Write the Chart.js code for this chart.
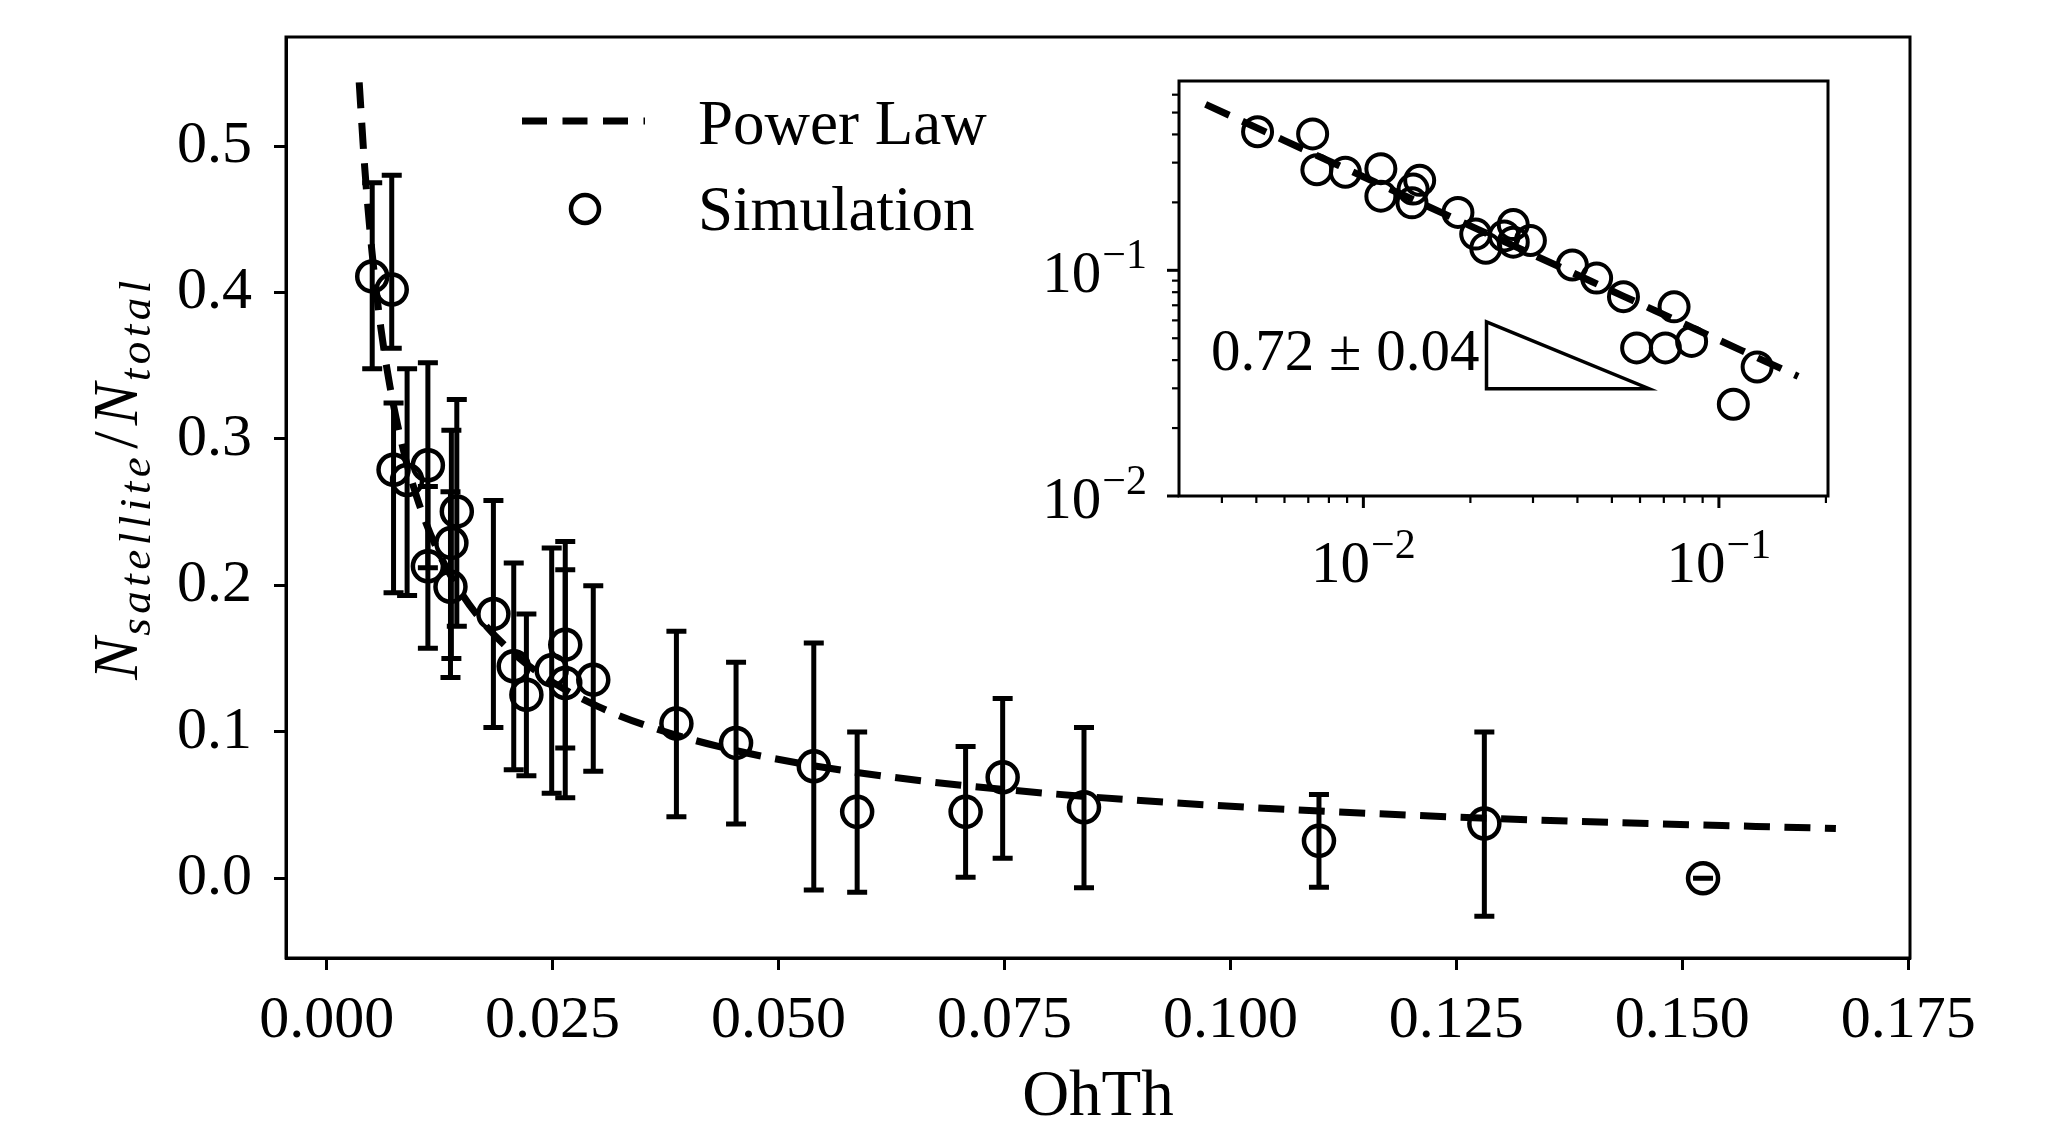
<!DOCTYPE html>
<html lang="en">
<head>
<meta charset="UTF-8">
<title>Satellite fraction vs OhTh</title>
<script src="https://cdn.jsdelivr.net/npm/chart.js"></script>
<style>
    html, body { margin: 0; padding: 0; background: #fff; }
    #wrap { position: relative; width: 2047px; height: 1123px; }
    #mainChart { position: absolute; left: 0; top: 0; }
    #insetChart { position: absolute; left: 1000px; top: 0; }
</style>
</head>
<body>
<div id="wrap">
    <canvas id="mainChart" width="2047" height="1123"></canvas>
    <canvas id="insetChart" width="1000" height="640"></canvas>
</div>

<script>
// ---- values ----
const xTicks = [0.000, 0.025, 0.050, 0.075, 0.100, 0.125, 0.150, 0.175];
const yTicks = [0.0, 0.1, 0.2, 0.3, 0.4, 0.5];

// simulation points (OhTh, N_sat/N_total) and error bar ends
const simX    = [0.00504, 0.0072, 0.0074, 0.0089, 0.0112, 0.0112, 0.0144, 0.0138, 0.0137, 0.01845, 0.0207, 0.0221, 0.0249,
                 0.0264, 0.0264, 0.0295, 0.0387, 0.0453, 0.0539, 0.0587, 0.0707, 0.0748, 0.0838, 0.1098, 0.1281, 0.1523];
const simY    = [0.411, 0.402, 0.279, 0.272, 0.282, 0.213, 0.2505, 0.229, 0.199, 0.1805, 0.1447, 0.1253, 0.142,
                 0.1595, 0.1333, 0.1356, 0.1056, 0.0924, 0.0764, 0.0453, 0.0453, 0.0689, 0.0484, 0.0255, 0.0373, 0.0];
const simLow  = [0.348, 0.362, 0.195, 0.193, 0.212, 0.157, 0.172, 0.150, 0.137, 0.103, 0.074, 0.070, 0.058,
                 0.089, 0.055, 0.073, 0.042, 0.037, -0.008, -0.0096, 0.0006, 0.0136, -0.0066, -0.0062, -0.026, 0.0];
const simHigh = [0.475, 0.480, 0.3245, 0.348, 0.352, 0.2675, 0.327, 0.306, 0.264, 0.258, 0.2152, 0.1804, 0.2255,
                 0.230, 0.2107, 0.1998, 0.1686, 0.1474, 0.1606, 0.0999, 0.090, 0.1228, 0.103, 0.0571, 0.0998, 0.0];

// dashed power law curve, sampled along the drawn line
const fitX = [0.0036, 0.0042, 0.005, 0.006, 0.007, 0.0085, 0.010, 0.012, 0.0145, 0.0175, 0.021,
              0.025, 0.030, 0.036, 0.044, 0.054, 0.066, 0.080, 0.097, 0.116, 0.138, 0.167];
const fitY = [0.5435, 0.4863, 0.4287, 0.3757, 0.3360, 0.2921, 0.2598, 0.2276, 0.1986, 0.1733, 0.1519,
              0.1339, 0.1173, 0.1029, 0.0890, 0.0767, 0.0664, 0.0578, 0.0502, 0.0441, 0.0389, 0.0339];

// inset (log-log) ticks
const insetMajor = [0.01, 0.1];
const insetMajorExp = ['\u22122', '\u22121'];
const insetXMinor = [0.004, 0.005, 0.006, 0.007, 0.008, 0.009, 0.02, 0.03, 0.04, 0.05, 0.06, 0.07, 0.08, 0.09, 0.2];
const insetYMinor = [0.02, 0.03, 0.04, 0.05, 0.06, 0.07, 0.08, 0.09, 0.2, 0.3, 0.4, 0.5, 0.6];
const slopeText = '0.72 \u00b1 0.04';

const SERIF = "'Liberation Serif', 'DejaVu Serif', serif";
const BLACK = '#000';

Chart.defaults.font.family = SERIF;
Chart.defaults.color = BLACK;

const pts = (xs, ys) => xs.map((v, i) => ({ x: v, y: ys[i] }));

// error bars, frame, legend and axis titles for the main plot
const mainExtras = {
    id: 'mainExtras',
    beforeDatasetsDraw(chart) {
        const { ctx, scales: { x, y } } = chart;
        ctx.save();
        ctx.strokeStyle = BLACK;
        ctx.lineWidth = 5;
        ctx.lineCap = 'butt';
        simX.forEach((v, i) => {
            const px = x.getPixelForValue(v);
            const lo = y.getPixelForValue(simLow[i]);
            const hi = y.getPixelForValue(simHigh[i]);
            ctx.beginPath();
            ctx.moveTo(px, lo); ctx.lineTo(px, hi);
            ctx.moveTo(px - 10, lo); ctx.lineTo(px + 10, lo);
            ctx.moveTo(px - 10, hi); ctx.lineTo(px + 10, hi);
            ctx.stroke();
        });
        ctx.restore();
    },
    afterDraw(chart) {
        const { ctx, chartArea: a } = chart;
        ctx.save();
        ctx.strokeStyle = BLACK;
        ctx.fillStyle = BLACK;
        ctx.lineWidth = 3;
        ctx.strokeRect(a.left, a.top, a.width, a.height);

        // legend
        ctx.lineWidth = 7;
        ctx.setLineDash([25, 15.5]);
        ctx.beginPath();
        ctx.moveTo(522, 121); ctx.lineTo(645, 121);
        ctx.stroke();
        ctx.setLineDash([]);
        ctx.lineWidth = 4.5;
        ctx.beginPath();
        ctx.arc(585, 209, 14, 0, Math.PI * 2);
        ctx.stroke();
        ctx.font = '63px ' + SERIF;
        ctx.textBaseline = 'alphabetic';
        ctx.textAlign = 'left';
        ctx.fillText('Power Law', 698, 144);
        ctx.fillText('Simulation', 698, 230);

        // x title
        ctx.textAlign = 'center';
        ctx.font = '65px ' + SERIF;
        ctx.fillText('OhTh', (a.left + a.right) / 2, 1115);

        // y title: N_satellite / N_total
        const parts = [
            { t: 'N', f: 'italic 63px ' + SERIF, dy: 0, ls: 0, gap: 2 },
            { t: 'satellite', f: 'italic 45px ' + SERIF, dy: 13, ls: 4.5, gap: 4 },
            { t: '/', f: '63px ' + SERIF, dy: 0, ls: 0, gap: 6 },
            { t: 'N', f: 'italic 63px ' + SERIF, dy: 0, ls: 0, gap: 2 },
            { t: 'total', f: 'italic 45px ' + SERIF, dy: 13, ls: 4.5, gap: 0 }
        ];
        let total = 0;
        parts.forEach(p => {
            ctx.font = p.f;
            ctx.letterSpacing = p.ls + 'px';
            p.w = ctx.measureText(p.t).width + p.gap;
            total += p.w;
        });
        ctx.translate(137, 478);
        ctx.rotate(-Math.PI / 2);
        ctx.textAlign = 'left';
        let cx = -total / 2;
        parts.forEach(p => {
            ctx.font = p.f;
            ctx.letterSpacing = p.ls + 'px';
            ctx.fillText(p.t, cx, p.dy);
            cx += p.w;
        });
        ctx.restore();
    }
};

new Chart(document.getElementById('mainChart'), {
    type: 'scatter',
    data: {
        datasets: [
            {
                type: 'line',
                label: 'Power Law',
                data: pts(fitX, fitY),
                borderColor: BLACK,
                borderWidth: 7,
                borderDash: [26, 14.5],
                borderCapStyle: 'butt',
                pointRadius: 0,
                fill: false,
                cubicInterpolationMode: 'monotone',
                order: 2
            },
            {
                label: 'Simulation',
                data: pts(simX, simY),
                pointStyle: 'circle',
                pointRadius: 15,
                pointBorderWidth: 4.5,
                pointBorderColor: BLACK,
                pointBackgroundColor: 'rgba(0,0,0,0)',
                order: 1
            }
        ]
    },
    options: {
        responsive: false,
        animation: false,
        devicePixelRatio: 1,
        events: [],
        layout: { padding: { left: 0, top: 37, right: 137, bottom: 0 } },
        plugins: { legend: { display: false }, tooltip: { enabled: false } },
        scales: {
            x: {
                type: 'linear',
                min: -0.0045,
                max: 0.1752,
                afterBuildTicks: s => { s.ticks = xTicks.map(v => ({ value: v })); },
                afterFit: s => { s.height = 165; s.paddingLeft = 0; s.paddingRight = 0; },
                grid: { display: true, drawOnChartArea: false, drawTicks: true, tickLength: 12, tickWidth: 3, tickColor: BLACK },
                border: { display: true, color: BLACK, width: 3 },
                ticks: {
                    color: BLACK, padding: 15, maxRotation: 0, autoSkip: false,
                    font: { family: SERIF, size: 60 },
                    callback: v => v.toFixed(3)
                }
            },
            y: {
                type: 'linear',
                min: -0.0545,
                max: 0.5745,
                afterBuildTicks: s => { s.ticks = yTicks.map(v => ({ value: v })); },
                afterFit: s => { s.width = 286; s.paddingTop = 0; s.paddingBottom = 0; },
                grid: { display: true, drawOnChartArea: false, drawTicks: true, tickLength: 12, tickWidth: 3, tickColor: BLACK },
                border: { display: true, color: BLACK, width: 3 },
                ticks: {
                    color: BLACK, padding: 22, autoSkip: false,
                    font: { family: SERIF, size: 60 },
                    callback: v => v.toFixed(1)
                }
            }
        }
    },
    plugins: [mainExtras]
});

// ---- inset: same data on log-log axes ----
const insetExtras = {
    id: 'insetExtras',
    beforeDraw(chart) {
        const { ctx, chartArea: a } = chart;
        ctx.save();
        ctx.fillStyle = '#fff';
        ctx.fillRect(a.left, a.top, a.width, a.height);
        ctx.restore();
    },
    afterDraw(chart) {
        const { ctx, chartArea: a, scales: { x, y } } = chart;
        ctx.save();
        ctx.strokeStyle = BLACK;
        ctx.fillStyle = BLACK;

        // slope triangle
        const tx0 = x.getPixelForValue(0.0222), tx1 = x.getPixelForValue(0.0636);
        const ty0 = y.getPixelForValue(0.0591), ty1 = y.getPixelForValue(0.0299);
        ctx.lineWidth = 3.5;
        ctx.lineJoin = 'miter';
        ctx.beginPath();
        ctx.moveTo(tx0, ty0); ctx.lineTo(tx0, ty1); ctx.lineTo(tx1, ty1); ctx.closePath();
        ctx.stroke();
        ctx.font = '59px ' + SERIF;
        ctx.textAlign = 'right';
        ctx.textBaseline = 'middle';
        ctx.fillText(slopeText, x.getPixelForValue(0.0212), y.getPixelForValue(0.0422));

        // frame
        ctx.lineWidth = 3;
        ctx.strokeRect(a.left, a.top, a.width, a.height);

        // tick marks
        const xTick = (v, len, w) => {
            const p = x.getPixelForValue(v);
            ctx.lineWidth = w;
            ctx.beginPath(); ctx.moveTo(p, a.bottom); ctx.lineTo(p, a.bottom + len); ctx.stroke();
        };
        const yTick = (v, len, w) => {
            const p = y.getPixelForValue(v);
            ctx.lineWidth = w;
            ctx.beginPath(); ctx.moveTo(a.left, p); ctx.lineTo(a.left - len, p); ctx.stroke();
        };
        insetXMinor.forEach(v => xTick(v, 7, 2.2));
        insetYMinor.forEach(v => yTick(v, 7, 2.2));
        insetMajor.forEach(v => { xTick(v, 12, 3); yTick(v, 12, 3); });

        // tick labels 10^{-n}
        const big = '59px ' + SERIF, small = '42px ' + SERIF;
        const measure = (e) => {
            ctx.font = big; const w1 = ctx.measureText('10').width;
            ctx.font = small; const w2 = ctx.measureText(e).width;
            return [w1, w2];
        };
        const label = (e, left, base) => {
            const [w1] = measure(e);
            ctx.textAlign = 'left';
            ctx.textBaseline = 'alphabetic';
            ctx.font = big; ctx.fillText('10', left, base);
            ctx.font = small; ctx.fillText(e, left + w1 + 1, base - 24);
        };
        insetMajor.forEach((v, i) => {
            const e = insetMajorExp[i];
            const [w1, w2] = measure(e);
            const w = w1 + w2 + 1;
            label(e, x.getPixelForValue(v) - w / 2, a.bottom + 86);
            label(e, a.left - 32 - w, y.getPixelForValue(v) + 22);
        });
        ctx.restore();
    }
};

const insetSim = pts(simX, simY).filter(p => p.y > 0);

new Chart(document.getElementById('insetChart'), {
    type: 'scatter',
    data: {
        datasets: [
            {
                type: 'line',
                label: 'Power Law',
                data: pts(fitX, fitY),
                borderColor: BLACK,
                borderWidth: 7,
                borderDash: [26, 14.5],
                borderCapStyle: 'butt',
                pointRadius: 0,
                fill: false,
                order: 2
            },
            {
                label: 'Simulation',
                data: insetSim,
                pointStyle: 'circle',
                pointRadius: 14.5,
                pointBorderWidth: 4,
                pointBorderColor: BLACK,
                pointBackgroundColor: 'rgba(0,0,0,0)',
                order: 1
            }
        ]
    },
    options: {
        responsive: false,
        animation: false,
        devicePixelRatio: 1,
        events: [],
        layout: { padding: { left: 0, top: 81, right: 172, bottom: 0 } },
        plugins: { legend: { display: false }, tooltip: { enabled: false } },
        scales: {
            x: {
                type: 'logarithmic', min: 0.00303, max: 0.2027,
                afterFit: s => { s.height = 144; },
                grid: { display: false }, border: { display: false }, ticks: { display: false }
            },
            y: {
                type: 'logarithmic', min: 0.01, max: 0.69,
                afterFit: s => { s.width = 179; },
                grid: { display: false }, border: { display: false }, ticks: { display: false }
            }
        }
    },
    plugins: [insetExtras]
});
</script>
</body>
</html>
